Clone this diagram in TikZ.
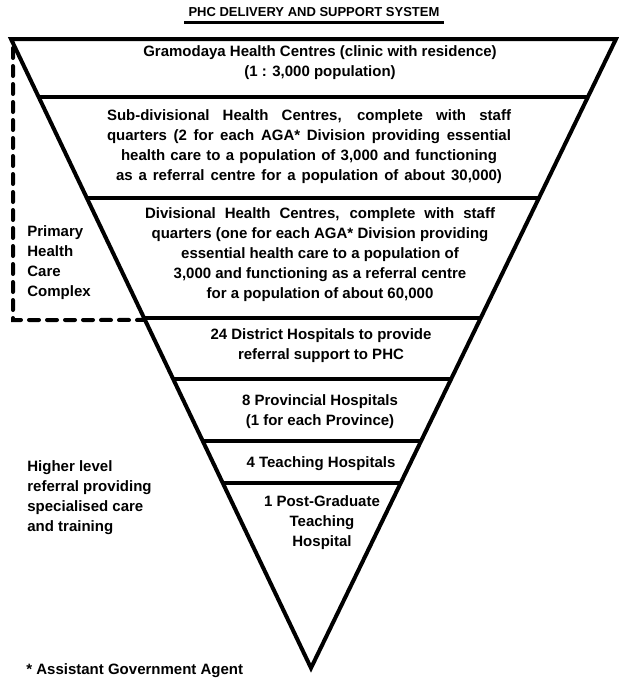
\documentclass[tikz,border=0pt]{standalone}
\usepackage{fontspec}
\setmainfont{Liberation Sans}
\usetikzlibrary{calc}

\begin{document}
\begin{tikzpicture}[x=0.5pt,y=-0.5pt,
	band/.style={line width=1.6pt},
	txt/.style={font=\fontsize{7.5}{10}\selectfont\bfseries,align=center,inner sep=0pt},
	side/.style={font=\fontsize{7.5}{10}\selectfont\bfseries,align=left,anchor=north west,inner sep=0pt}]
	\useasboundingbox (0,0) rectangle (619,680);

	%title
	\node[font=\fontsize{6.5}{8}\selectfont\bfseries,inner sep=0pt] (title) at (314,12) {PHC DELIVERY AND SUPPORT SYSTEM};
	\draw[line width=1.5pt] ($(title.south west)+(-4,5)$) -- ($(title.south east)+(4,5)$);

	%triangle
	\coordinate (tl) at (11,39);
	\coordinate (tr) at (616,39);
	\coordinate (apex) at (311,668);
	\draw[line width=2pt,line join=miter] (tl) -- (tr) -- (apex) -- cycle;

	%levels
	\foreach \y in {97,198,318,379,441,483}
		\draw[band] ($(tl)!{(\y-39)/629}!(apex)$) -- ($(tr)!{(\y-39)/629}!(apex)$);

	%primary health care bracket
	\coordinate (bt) at (13,48);
	\coordinate (bb) at (13,320);
	\draw[line width=2pt,dash pattern=on 5pt off 4pt,line cap=round] (bt) -- (bb) -- ($(tl)!{(320-39)/629}!(apex)$);

	%texts inside triangle
	\node[txt] (gram) at (320,63) {Gramodaya Health Centres (clinic with residence)\\(1 : 3,000 population)};
	\node[txt] (subdiv) at (309,147) {\makebox[202pt][s]{Sub-divisional Health Centres, complete with staff}\\
		\makebox[202pt][s]{quarters (2 for each AGA* Division providing essential}\\
		\makebox[188pt][s]{health care to a population of 3,000 and functioning}\\
		\makebox[193pt][s]{as a referral centre for a population of about 30,000)}};
	\node[txt] (div) at (320,255) {\makebox[175pt][s]{Divisional Health Centres, complete with staff}\\quarters (one for each AGA* Division providing\\essential health care to a population of\\3,000 and functioning as a referral centre\\for a population of about 60,000};
	\node[txt] (dist) at (321,346) {24 District Hospitals to provide\\referral support to PHC};
	\node[txt] (prov) at (320,412) {8 Provincial Hospitals\\(1 for each Province)};
	\node[txt] (teach) at (321,464) {4 Teaching Hospitals};
	\node[txt] (postgrad) at (322,523) {1 Post-Graduate\\Teaching\\Hospital};

	%side texts
	\node[side] (phc) at (27,225) {Primary\\Health\\Care\\Complex};
	\node[side] (higher) at (27,460) {Higher level\\referral providing\\specialised care\\and training};
	\node[side,anchor=west] (foot) at (26,671) {* Assistant Government Agent};
\end{tikzpicture}
\end{document}
